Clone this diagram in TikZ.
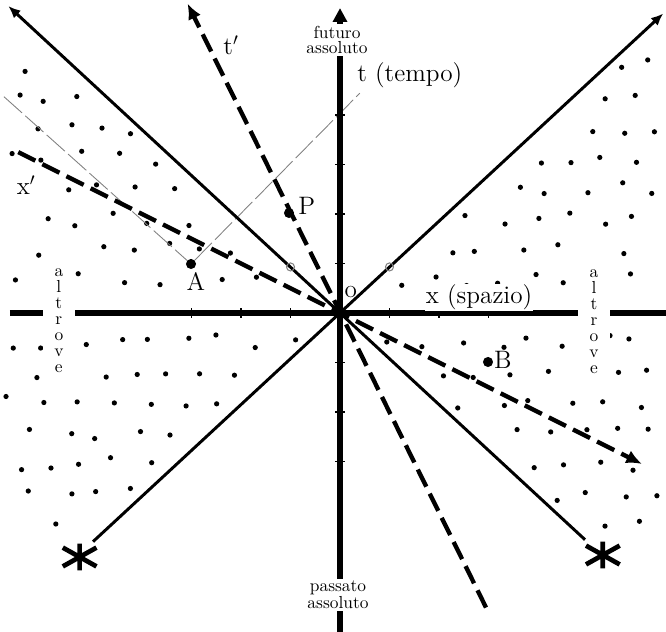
\documentclass[tikz,border=0pt]{standalone}
\usepackage{tikz}
\usetikzlibrary{arrows.meta}

\begin{document}
\begin{tikzpicture}[
  axis/.style={line width=2.9pt},
  cone/.style={line width=1.7pt},
  frameline/.style={line width=2.5pt, dash pattern=on 11pt off 4.5pt},
  ray/.style={line width=0.5pt, gray, dash pattern=on 14pt off 2.5pt},
  tickline/.style={line width=0.6pt},
  event/.style={circle, fill, inner sep=0pt, minimum size=5.8pt},
  spot/.style={circle, draw=gray, line width=0.6pt, inner sep=0pt, minimum size=4.6pt},
  tag/.style={font=\fontsize{14.5}{16}\selectfont, inner sep=0.5pt},
  region/.style={font=\fontsize{10}{8.6}\selectfont, align=center, fill=white, inner xsep=1pt, inner ysep=1.2pt},
  vword/.style={font=\fontsize{10}{9.2}\selectfont, align=center, fill=white, inner xsep=6.5pt, inner ysep=0pt},
  asterisk/.pic={\draw[line width=2.7pt] (0,-0.27) -- (0,0.27) (-0.34,-0.19) -- (0.34,0.19) (-0.34,0.19) -- (0.34,-0.19);}
]
\useasboundingbox (-6.869,-6.444) rectangle (6.586,6.323);

\pgfmathsetseed{2718}
\foreach \i in {0,...,19} {
  \foreach \j in {0,...,15} {
    \pgfmathsetmacro{\px}{-6.6+0.7*\i+0.35*mod(\j,2)+0.17*rand}
    \pgfmathsetmacro{\py}{-4.3+0.62*\j+0.14*rand}
    \pgfmathtruncatemacro{\ok}{((abs(\py)<0.925*abs(\px)-0.25) && (abs(\py)>0.15) && (\px>-6.75) && (\px<6.45) && (\py<5.45) && (\py>-4.35) && !(abs(abs(\px+0.28)-5.4)<0.3 && abs(\py)<1.3)) ? 1 : 0}
    \ifnum\ok=1 \fill (\px,\py) circle (1.5pt); \fi
  }
}

\coordinate (o) at (0,0);
\coordinate (xl) at (-6.67,0);
\coordinate (xr) at (6.586,0);
\coordinate (tb) at (0,-6.444);
\coordinate (tt) at (0,6.16);
\coordinate (c1a) at (-4.99,-4.62);
\coordinate (c1b) at (6.53,6.05);
\coordinate (c2a) at (4.95,-4.58);
\coordinate (c2b) at (-6.7,6.2);
\coordinate (tpa) at (2.95,-5.95);
\coordinate (tpb) at (-3.08,6.25);
\coordinate (xpa) at (-6.5,3.25);
\coordinate (xpb) at (6.1,-3.05);
\coordinate (r1) at (-6.79,4.37);
\coordinate (r2) at (0.4,4.44);

\node[event] (A) at (-3.01,0.99) {};
\node[event] (P) at (-1.03,2.02) {};
\node[event] (B) at (2.99,-0.99) {};

\draw[ray] (r1) -- (A) -- (r2);
\draw[cone, -{Latex[length=7pt,width=6pt]}] (c1a) -- (c1b);
\draw[cone, -{Latex[length=7pt,width=6pt]}] (c2a) -- (c2b);
\draw[frameline, -{Latex[length=9pt,width=8pt]}] (tpa) -- (tpb);
\draw[frameline, -{Latex[length=9pt,width=8pt]}] (xpa) -- (xpb);
\draw[axis] (xl) -- (xr);
\draw[axis, -{Triangle[length=8pt,width=8pt]}] (tb) -- (tt);
\foreach \k in {-3,-2,-1,1,2,3} \draw[tickline] (\k,-0.1) -- (\k,0.1);
\foreach \k in {-3,-2,-1,1,2,3,4} \draw[tickline] (-0.1,\k) -- (0.1,\k);

\node[spot] (s1) at (-1,0.93) {};
\node[spot] (s2) at (1,0.93) {};

\node[region] (fut) at (-0.06,5.52) {futuro\\assoluto};
\node[region] (pas) at (-0.04,-5.69) {passato\\assoluto};
\node[vword] (alt1) at (-5.68,-0.16) {a\\l\\t\\r\\o\\v\\e};
\node[vword] (alt2) at (5.13,-0.18) {a\\l\\t\\r\\o\\v\\e};

\node[tag] (tlab) at (1.41,4.81) {t (tempo)};
\node[tag] (tplab) at (-2.2,5.41) {t$'$};
\node[tag, fill=white] (xplab) at (-6.34,2.59) {x$'$};
\node[tag, fill=white] (xlab) at (2.81,0.32) {x (spazio)};
\node[tag] (olab) at (0.22,0.42) {o};
\node[tag] (plab) at (-0.67,2.16) {P};
\node[tag, fill=white] (alab) at (-2.91,0.63) {A};
\node[tag, fill=white] (blab) at (3.29,-0.95) {B};

\pic at (-5.26,-4.93) {asterisk};
\pic at (5.31,-4.89) {asterisk};
\end{tikzpicture}
\end{document}
